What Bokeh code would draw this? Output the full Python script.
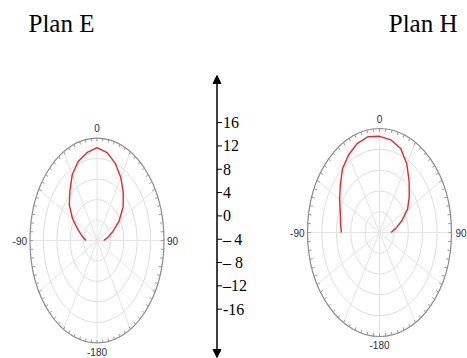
import numpy as np
from bokeh.plotting import figure
from bokeh.models import Range1d, Arrow, NormalHead
from bokeh.core.properties import value
from bokeh.embed import file_html
from bokeh.resources import INLINE

# ---------------- data ----------------
ANGLES = [-90, -80, -70, -60, -50, -40, -30, -20, -10, 0, 10, 20, 30, 40, 50, 60, 70, 80, 90]
# normalised radius (0 = centre, 1 = outer ring)
E_GAIN = [0.165, 0.22, 0.30, 0.42, 0.54, 0.63, 0.74, 0.82, 0.87, 0.905, 0.87, 0.80, 0.71, 0.61, 0.51, 0.38, 0.25, 0.16, 0.10]
H_GAIN = [0.53, 0.55, 0.58, 0.64, 0.71, 0.80, 0.86, 0.91, 0.935, 0.925, 0.905, 0.86, 0.76, 0.64, 0.54, 0.45, 0.33, 0.23, 0.16]
RINGS = [0.2, 0.4, 0.6, 0.8]
SPOKE_ANGLES = list(range(0, 360, 30))
ANGLE_LABELS = ["0", "90", "-180", "-90"]
TITLES = ["Plan E", "Plan H"]
SCALE_VALUES = [16, 12, 8, 4, 0, -4, -8, -12, -16]
SCALE_LABELS = ["16", "12", "8", "4", "0", "\u2013\u20094", "\u2013 8", "\u201312", "-16"]

W, H = 467, 358
p = figure(width=W, height=H, x_range=Range1d(0, W), y_range=Range1d(0, H),
           output_backend="svg", toolbar_location=None, min_border=0,
           x_axis_type=None, y_axis_type=None)
p.grid.visible = False
p.outline_line_color = None
p.background_fill_color = "white"

def polar_panel(cx, cy, rx, ry, gains, label_off):
    # inner rings
    p.ellipse(x=[cx] * len(RINGS), y=[cy] * len(RINGS),
              width=[2 * rx * k for k in RINGS], height=[2 * ry * k for k in RINGS],
              fill_color=None, line_color="#dedede", line_width=1)
    # spokes
    a = np.radians(SPOKE_ANGLES)
    p.segment(x0=[cx] * len(a), y0=[cy] * len(a),
              x1=cx + rx * np.sin(a), y1=cy + ry * np.cos(a),
              line_color="#e4e4e4", line_width=1)
    # outer ring
    p.ellipse(x=[cx], y=[cy], width=[2 * rx], height=[2 * ry],
              fill_color=None, line_color="#8a8a8a", line_width=1.2)
    # tick marks every 5 degrees, pointing inward
    t = np.radians(np.arange(0, 360, 5))
    p.segment(x0=cx + rx * np.sin(t), y0=cy + ry * np.cos(t),
              x1=cx + (rx - 3) * np.sin(t), y1=cy + (ry - 3) * np.cos(t),
              line_color="#999999", line_width=1)
    # curve
    th = np.radians(ANGLES)
    g = np.array(gains)
    p.line(cx + rx * g * np.sin(th), cy + ry * g * np.cos(th),
           line_color="#e8262a", line_width=1.4)
    # angle labels
    top, right, bottom, left = label_off
    xs = [cx, cx + rx + right, cx, cx - rx - left]
    ys = [cy + ry + top, cy, cy - ry - bottom, cy]
    aligns = ["center", "left", "center", "right"]
    for s, x, y, al in zip(ANGLE_LABELS, xs, ys, aligns):
        p.text(x=[x], y=[y], text=[s], text_align=al, text_baseline="middle",
               text_font=value("Liberation Sans"), text_font_size="10px",
               text_color="#2b2b3a")

# Plan E  (picture centre ~ (96.5, 240))
polar_panel(96.5, 118, 67, 102.5, E_GAIN, (10, 3, 8.5, 3))
# Plan H  (picture centre ~ (379, 232))
polar_panel(379, 126, 72, 104, H_GAIN, (10, 4, 8.5, 3))

# titles
p.text(x=[28, 457], y=[335.5, 335.5], text=TITLES, text_align=["left", "right"],
       text_baseline="middle", text_font=value("Liberation Serif"),
       text_font_size="25px", text_color="black")

# central scale
ax_x = 216.5
y0, k = 142.6, 5.83
p.add_layout(Arrow(start=NormalHead(size=8, fill_color="black", line_color="black"),
                   end=NormalHead(size=8, fill_color="black", line_color="black"),
                   x_start=ax_x, y_start=1, x_end=ax_x, y_end=283,
                   line_color="black", line_width=1.5))
sv = np.array(SCALE_VALUES, dtype=float)
sy = y0 + k * sv
p.segment(x0=[ax_x] * len(sv), y0=sy, x1=[ax_x + 5] * len(sv), y1=sy,
          line_color="black", line_width=1)
p.text(x=[ax_x + 6] * len(sv), y=sy, text=SCALE_LABELS, text_align="left",
       text_baseline="middle", text_font=value("Liberation Serif"),
       text_font_size="16px", text_color="black")

open("out.html", "w").write(file_html(p, INLINE))
